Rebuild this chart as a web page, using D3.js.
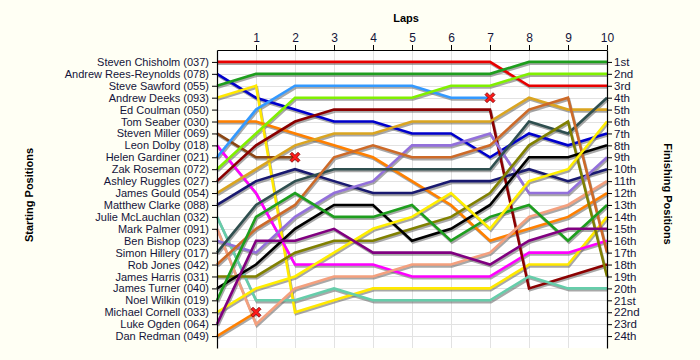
<!DOCTYPE html>
<html><head><meta charset="utf-8">
<script src="https://cdn.jsdelivr.net/npm/d3@7/dist/d3.min.js"></script>
<style>
html,body{margin:0;padding:0;background:#fffff4;}
svg{display:block;font-family:"Liberation Sans",Arial,sans-serif;}
</style></head><body>
<svg id="chart" width="700" height="360"></svg>
<script>
// Drivers in starting order
const driverNames = [
  "Steven Chisholm (037)","Andrew Rees-Reynolds (078)","Steve Sawford (055)","Andrew Deeks (093)",
  "Ed Coulman (050)","Tom Seaber (030)","Steven Miller (069)","Leon Dolby (018)",
  "Helen Gardiner (021)","Zak Roseman (072)","Ashley Ruggles (027)","James Gould (054)",
  "Matthew Clarke (088)","Julie McLauchlan (032)","Mark Palmer (091)","Ben Bishop (023)",
  "Simon Hillery (017)","Rob Jones (042)","James Harris (031)","James Turner (040)",
  "Noel Wilkin (019)","Michael Cornell (033)","Luke Ogden (064)","Dan Redman (049)"
];
const lineColors = [
  "#e80000","#0000cc","#1e9e1e","#ffe800","#ffffff","#ff8000","#8b4513","#ff00ff",
  "#3399ff","#80f000","#8b0000","#daa520","#191970","#66cdaa","#f4a07e","#9370db",
  "#2f4f4f","#cd6a28","#808000","#000000","#1e9e1e","#ffee00","#800080","#ff8000"
];
const lapNumbers = [0,1,2,3,4,5,6,7,8,9,10];
// Position at each lap (index = lap), one array per driver
const lapPositions = [
  [1,1,1,1,1,1,1,1,3,3,3],
  [2,4,5,6,6,7,7,9,7,8,7],
  [3,2,2,2,2,2,2,2,1,1,1],
  [4,3,22,21,20,20,20,20,18,18,14],
  [],
  [6,6,7,8,9,11,13,16,15,14,12],
  [7,9,9],
  [8,12,18,18,18,19,19,19,17,17,16],
  [9,5,3,3,3,3,4,4],
  [10,7,4,4,4,4,3,3,2,2,2],
  [11,8,6,5,5,5,5,5,20,19,18],
  [12,10,8,7,7,6,6,6,4,5,5],
  [13,11,10,11,12,12,11,11,10,11,10],
  [14,21,21,20,21,21,21,21,19,20,20],
  [15,23,20,19,19,18,18,17,14,13,11],
  [16,17,14,12,11,8,8,7,12,12,9],
  [17,13,11,10,10,10,10,10,6,7,4],
  [18,15,13,9,8,9,9,8,5,4,17],
  [19,19,17,16,16,15,14,12,8,6,19],
  [20,18,15,13,13,16,15,13,9,9,8],
  [21,14,12,14,14,13,16,14,13,16,13],
  [22,20,19,17,15,14,12,15,11,10,6],
  [23,16,16,15,17,17,17,18,16,15,15],
  [24,22]
];
const retiredDrivers = [6, 8, 23]; // indexes of drivers who retired (cross at last point)
const finishLabels = ["1st","2nd","3rd","4th","5th","6th","7th","8th","9th","10th","11th","12th",
  "13th","14th","15th","16th","17th","18th","19th","20th","21st","22nd","23rd","24th"];
const positionTicks = d3.range(1, 25);
const lapTicks = [1,2,3,4,5,6,7,8,9,10];

const svg = d3.select("#chart");
const x = d3.scaleLinear().domain([0,10]).range([217,607]);
const y = d3.scaleLinear().domain([0,25]).range([50,348]);

// plot background
svg.append("rect").attr("x",x(0)).attr("y",y(0)).attr("width",x(10)-x(0)).attr("height",y(25)-y(0)).attr("fill","#ffffff");

// grid
const grid = svg.append("g").attr("stroke","#e2e2e2").attr("stroke-width",1);
grid.selectAll("line.h").data(positionTicks).join("line").attr("class","h")
  .attr("x1",x(0)).attr("x2",x(10)).attr("y1",d=>Math.round(y(d))+0.5).attr("y2",d=>Math.round(y(d))+0.5);
grid.selectAll("line.v").data(lapTicks.slice(0,9)).join("line").attr("class","v")
  .attr("x1",d=>Math.round(x(d))+0.5).attr("x2",d=>Math.round(x(d))+0.5).attr("y1",y(0)).attr("y2",y(25));

const line = d3.line().x((d,i)=>x(lapNumbers[i])).y(d=>y(d));
const series = lapPositions.map((p,i)=>({p, c:lineColors[i], i})).filter(s=>s.p.length>1);

// shadows
svg.append("g").selectAll("path").data(series).join("path")
  .attr("d",s=>line(s.p)).attr("fill","none").attr("stroke","#6e6e6e").attr("stroke-opacity",0.6)
  .attr("stroke-width",2.6).attr("transform","translate(1,1.8)");
// lines
svg.append("g").selectAll("path").data(series).join("path")
  .attr("d",s=>line(s.p)).attr("fill","none").attr("stroke",s=>s.c).attr("stroke-width",2.6);

// retirement crosses
const crossPath = "M-5,-3 L-3,-5 L0,-2 L3,-5 L5,-3 L2,0 L5,3 L3,5 L0,2 L-3,5 L-5,3 L-2,0 Z";
svg.append("g").selectAll("path").data(retiredDrivers).join("path")
  .attr("d",crossPath)
  .attr("transform",i=>{const p=lapPositions[i];return `translate(${x(p.length-1)},${y(p[p.length-1])})`;})
  .attr("fill","#ff1a1a").attr("stroke","#7a0000").attr("stroke-width",0.8);

// axes
const txtCol = "#14143a";
const gTop = svg.append("g").attr("transform",`translate(0,${y(0)})`)
  .call(d3.axisTop(x).tickValues(lapTicks).tickSize(5).tickSizeOuter(0).tickPadding(3));
gTop.selectAll("text").attr("font-size",12).attr("fill",txtCol);
const gLeft = svg.append("g").attr("transform",`translate(${x(0)},0)`)
  .call(d3.axisLeft(y).tickValues(positionTicks).tickFormat(d=>driverNames[d-1]).tickSize(5).tickSizeOuter(0).tickPadding(3));
gLeft.selectAll("text").attr("font-size",11).attr("fill",txtCol);
const gRight = svg.append("g").attr("transform",`translate(${x(10)},0)`)
  .call(d3.axisRight(y).tickValues(positionTicks).tickFormat(d=>finishLabels[d-1]).tickSize(5).tickSizeOuter(0).tickPadding(2));
gRight.selectAll("text").attr("font-size",11.5).attr("fill",txtCol);
svg.selectAll(".domain").attr("stroke","#000").attr("stroke-width",1.2);
svg.selectAll(".tick line").attr("stroke","#000");
svg.selectAll("g").attr("font-family",null);

// titles
svg.append("text").attr("x",406).attr("y",22).attr("text-anchor","middle")
  .attr("font-size",11).attr("font-weight","bold").text("Laps");
svg.append("text").attr("transform","translate(33,195) rotate(-90)").attr("text-anchor","middle")
  .attr("font-size",11).attr("font-weight","bold").text("Starting Positions");
svg.append("text").attr("transform","translate(664,194) rotate(90)").attr("text-anchor","middle")
  .attr("font-size",11).attr("font-weight","bold").text("Finishing Positions");
</script>
</body></html>
